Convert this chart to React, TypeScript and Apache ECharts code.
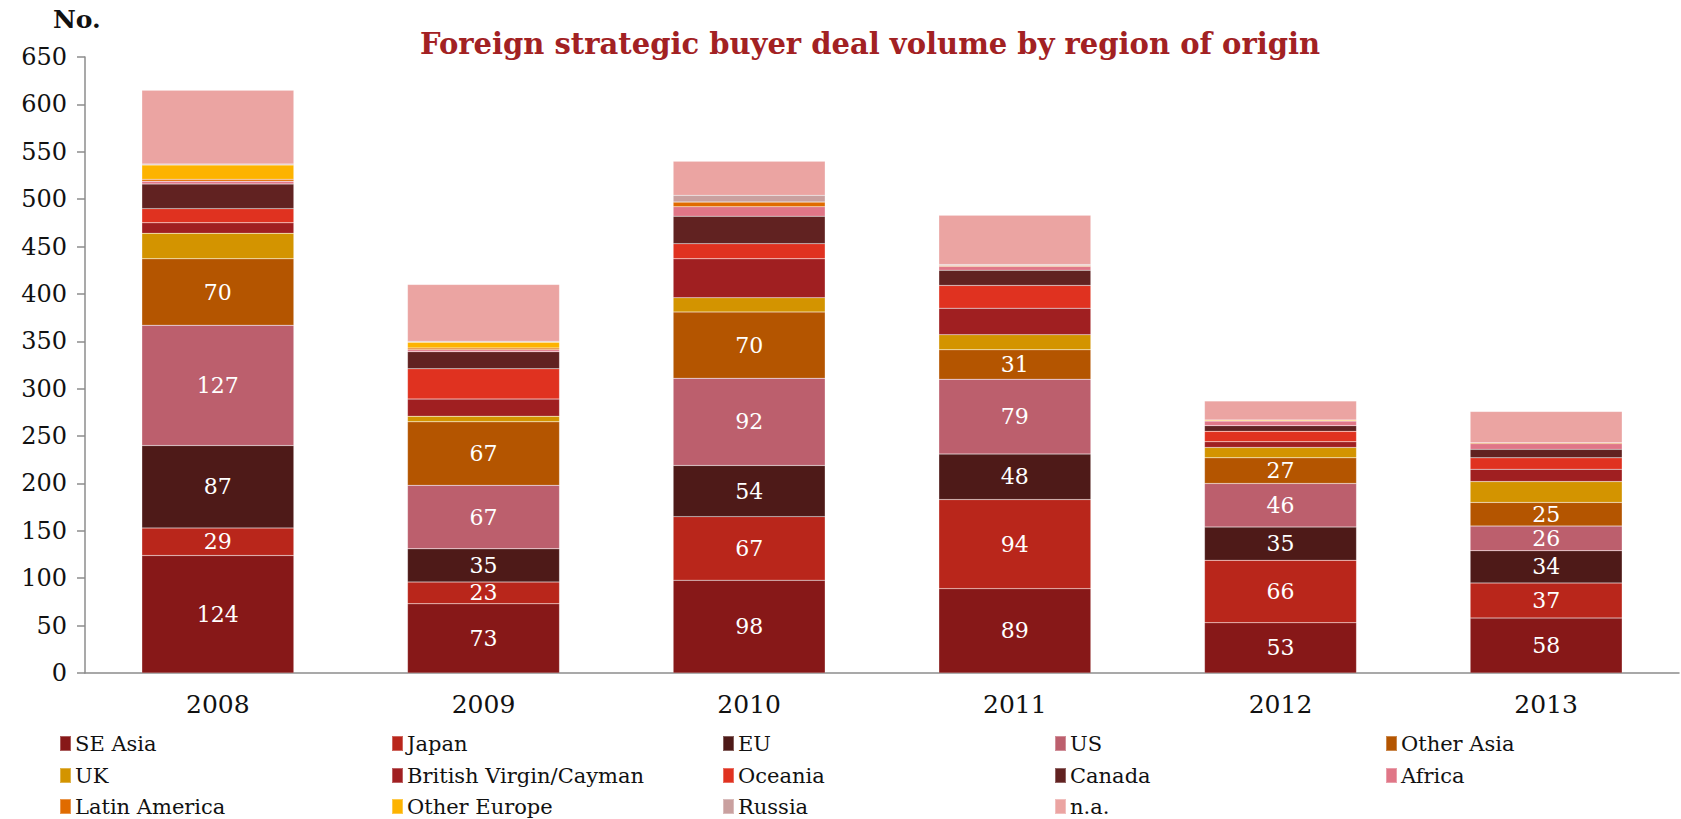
import React, { useEffect, useRef } from "react";
import * as echarts from "echarts";

const years = ["2008", "2009", "2010", "2011", "2012", "2013"];
const seAsia = [124, 73, 98, 89, 53, 58];
const japan = [29, 23, 67, 94, 66, 37];
const eu = [87, 35, 54, 48, 35, 34];
const us = [127, 67, 92, 79, 46, 26];
const otherAsia = [70, 67, 70, 31, 27, 25];
const uk = [27, 6, 15, 16, 11, 22];
const bvi = [11, 18, 41, 28, 6, 13];
const oceania = [15, 32, 16, 24, 11, 12];
const canada = [26, 18, 29, 16, 6, 9];
const africa = [3, 2, 10, 4, 5, 6];
const latinAmerica = [2, 2, 5, 1, 0, 1];
const otherEurope = [15, 6, 0, 0, 1, 0];
const russia = [1, 1, 7, 1, 0, 0];
const na = [78, 60, 36, 52, 20, 33];
const yTicks = { min: 0, max: 650, interval: 50 };

const seriesDefs = [
  { name: "SE Asia", data: seAsia, color: "#871818", label: true },
  { name: "Japan", data: japan, color: "#B9261B", label: true },
  { name: "EU", data: eu, color: "#4E1A18", label: true },
  { name: "US", data: us, color: "#BC5F6D", label: true },
  { name: "Other Asia", data: otherAsia, color: "#B45500", label: true },
  { name: "UK", data: uk, color: "#D39400", label: false },
  { name: "British Virgin/Cayman", data: bvi, color: "#A01F21", label: false },
  { name: "Oceania", data: oceania, color: "#E03220", label: false },
  { name: "Canada", data: canada, color: "#612221", label: false },
  { name: "Africa", data: africa, color: "#E07687", label: false },
  { name: "Latin America", data: latinAmerica, color: "#E06B00", label: false },
  { name: "Other Europe", data: otherEurope, color: "#FDB300", label: false },
  { name: "Russia", data: russia, color: "#C9A09F", label: false },
  { name: "n.a.", data: na, color: "#EBA4A2", label: false },
];

const FONT = "'DejaVu Serif', Georgia, serif";

export default function App() {
  const ref = useRef<HTMLDivElement>(null);
  useEffect(() => {
    document.body.style.margin = "0";
    if (!ref.current) return;
    const chart = echarts.init(ref.current, null, { renderer: "svg" });
    const colX = [59, 391, 722, 1054, 1385];
    const rowY = [733, 765, 796];
    const legends = seriesDefs.map((s, i) => ({
      data: [s.name],
      left: colX[i % 5],
      top: rowY[Math.floor(i / 5)],
      orient: "horizontal",
      itemWidth: 11,
      itemHeight: 15,
      itemGap: 4,
      padding: 0,
      icon: "rect",
      selectedMode: false,
      textStyle: { fontFamily: FONT, fontSize: 21, color: "#111", padding: [0, 0, 0, -1] },
    }));
    chart.setOption({
      animation: false,
      title: {
        text: "Foreign strategic buyer deal volume by region of origin",
        left: 865,
        top: 24,
        textAlign: "center",
        textStyle: { fontFamily: FONT, fontSize: 29, fontWeight: "bold", color: "#A22123" },
      },
      graphic: [
        {
          type: "text",
          left: 53,
          top: 7,
          style: { text: "No.", fontFamily: FONT, fontSize: 25, fontWeight: "bold", fill: "#111" },
        },
      ],
      legend: legends,
      grid: { left: 85, top: 57, right: 2, height: 616 },
      xAxis: {
        type: "category",
        data: years,
        axisLine: { lineStyle: { color: "#8c8c8c", width: 1.5 } },
        axisTick: { show: false },
        axisLabel: { fontFamily: FONT, fontSize: 25, color: "#111", margin: 19 },
      },
      yAxis: {
        type: "value",
        min: yTicks.min,
        max: yTicks.max,
        interval: yTicks.interval,
        axisLine: { show: true, lineStyle: { color: "#8c8c8c", width: 1.5 } },
        axisTick: { show: true, length: 8, lineStyle: { color: "#8c8c8c", width: 1.5 } },
        splitLine: { show: false },
        axisLabel: { fontFamily: FONT, fontSize: 24, color: "#111", margin: 18 },
      },
      series: seriesDefs.map((s) => ({
        name: s.name,
        type: "bar",
        stack: "total",
        data: s.data,
        barWidth: 152,
        itemStyle: { color: s.color, borderColor: "rgba(255,255,255,0.3)", borderWidth: 0.5 },
        label: {
          show: s.label,
          position: "inside",
          color: "#fff",
          fontFamily: FONT,
          fontSize: 22,
        },
      })),
    });
    return () => chart.dispose();
  }, []);
  return <div ref={ref} style={{ width: 1681, height: 819 }} />;
}
